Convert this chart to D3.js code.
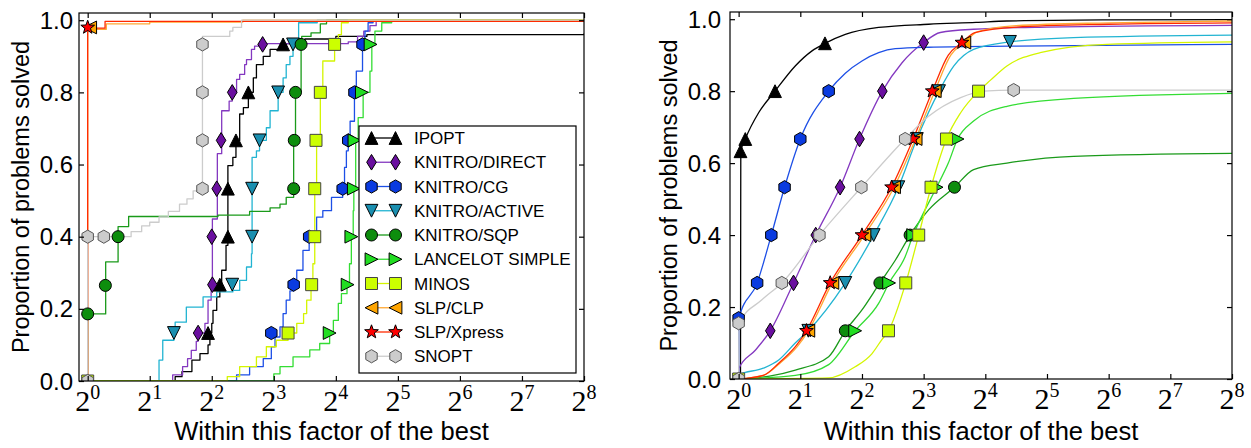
<!DOCTYPE html>
<html><head><meta charset="utf-8">
<script src="https://cdn.jsdelivr.net/npm/d3@7"></script>
<style>body{margin:0;background:#fff}svg{display:block}</style>
</head><body>
<svg id="chart" width="1251" height="448"></svg>
<script>
// ---------- DATA ----------
const solvers = ["IPOPT","KNITRO/DIRECT","KNITRO/CG","KNITRO/ACTIVE","KNITRO/SQP","LANCELOT SIMPLE","MINOS","SLP/CLP","SLP/Xpress","SNOPT"];
const xTickExponents = [0,1,2,3,4,5,6,7,8];
const yTickValues = [0,0.2,0.4,0.6,0.8,1.0];
const xLabel = "Within this factor of the best";
const yLabel = "Proportion of problems solved";

// Left panel: step curves, points are [log2(factor), proportion]
const leftIPOPT = [[0,0],[1.32,0],[1.41,0.012],[1.52,0.026],[1.68,0.058],[1.81,0.076],[1.94,0.1],[1.97,0.133],[2.0,0.16],[2.02,0.196],[2.08,0.233],[2.13,0.265],[2.16,0.307],[2.23,0.343],[2.23,0.376],[2.26,0.4],[2.26,0.597],[2.34,0.62],[2.39,0.666],[2.45,0.702],[2.45,0.74],[2.51,0.758],[2.59,0.8],[2.67,0.84],[2.72,0.877],[2.83,0.9],[2.94,0.919],[3.1,0.93],[3.2,0.935],[3.5,0.948],[4.0,0.955],[4.5,0.96],[8,0.963]];
const leftDIRECT = [[0,0],[1.27,0],[1.37,0.017],[1.53,0.04],[1.61,0.062],[1.67,0.085],[1.75,0.11],[1.78,0.133],[1.89,0.16],[1.94,0.224],[1.99,0.251],[2.01,0.267],[2.01,0.449],[2.09,0.463],[2.09,0.63],[2.16,0.662],[2.16,0.749],[2.28,0.776],[2.33,0.8],[2.4,0.836],[2.45,0.85],[2.53,0.877],[2.56,0.891],[2.64,0.919],[2.69,0.928],[2.8,0.935],[4.2,0.94],[4.35,0.955],[4.45,0.97],[4.55,0.985],[4.65,1.0],[8,1.0]];
const leftCG = [[0,0],[2.05,0],[2.4,0.017],[2.61,0.04],[2.83,0.062],[2.96,0.095],[3.02,0.122],[3.1,0.15],[3.15,0.187],[3.2,0.224],[3.26,0.25],[3.32,0.267],[3.37,0.307],[3.47,0.362],[3.57,0.4],[3.69,0.454],[3.79,0.472],[3.93,0.509],[4.11,0.533],[4.14,0.592],[4.17,0.638],[4.2,0.667],[4.23,0.72],[4.3,0.8],[4.33,0.859],[4.43,0.933],[4.47,0.97],[4.52,0.993],[4.6,1.0],[8,1.0]];
const leftACTIVE = [[0,0],[1.15,0],[1.15,0.058],[1.21,0.113],[1.39,0.133],[1.41,0.163],[1.59,0.205],[1.86,0.233],[2.08,0.247],[2.34,0.251],[2.45,0.279],[2.56,0.316],[2.64,0.353],[2.65,0.4],[2.65,0.62],[2.72,0.638],[2.77,0.667],[2.88,0.702],[2.94,0.749],[3.07,0.8],[3.15,0.84],[3.2,0.877],[3.26,0.9],[3.31,0.933],[3.4,0.993],[3.7,1.0],[8,1.0]];
const leftSQP = [[0,0],[0,0.186],[0.29,0.265],[0.29,0.33],[0.49,0.4],[0.49,0.428],[0.66,0.456],[2.1,0.46],[2.61,0.47],[2.94,0.48],[3.1,0.49],[3.2,0.509],[3.32,0.533],[3.32,0.667],[3.35,0.8],[3.44,0.933],[3.45,0.955],[3.6,0.965],[3.75,0.99],[3.85,1.0],[8,1.0]];
const leftLANCELOT = [[0,0],[2.9,0],[3.0,0.02],[3.1,0.04],[3.31,0.067],[3.58,0.086],[3.74,0.104],[3.9,0.133],[3.96,0.168],[4.04,0.215],[4.09,0.242],[4.18,0.265],[4.22,0.325],[4.25,0.38],[4.25,0.4],[4.28,0.472],[4.29,0.533],[4.32,0.61],[4.32,0.667],[4.36,0.73],[4.44,0.8],[4.55,0.859],[4.58,0.933],[4.63,0.97],[4.74,0.993],[4.9,1.0],[8,1.0]];
const leftMINOS = [[0,0],[2.07,0],[2.25,0.012],[2.45,0.04],[2.72,0.067],[2.88,0.095],[3.04,0.113],[3.23,0.133],[3.37,0.16],[3.48,0.187],[3.53,0.224],[3.6,0.265],[3.63,0.325],[3.66,0.38],[3.66,0.533],[3.69,0.667],[3.75,0.8],[3.79,0.887],[3.98,0.933],[4.04,0.96],[4.09,0.993],[4.2,1.0],[8,1.0]];
const leftCLP = [[0,0],[0,0.975],[0.3,0.99],[1.0,0.995],[2.5,1.0],[8,1.0]];
const leftXpress = [[0,0],[0,0.978],[0.28,0.997],[8,0.997]];
const leftSNOPT = [[0,0],[0,0.4],[0.7,0.414],[0.87,0.43],[1.0,0.44],[1.15,0.455],[1.3,0.47],[1.48,0.49],[1.6,0.505],[1.7,0.527],[1.85,0.533],[1.85,0.955],[2.29,0.97],[2.34,0.98],[2.48,1.0],[8,1.0]];

// Left panel marker positions
const leftMkIPOPT = [[1.94,0.133],[2.13,0.267],[2.26,0.4],[2.26,0.533],[2.39,0.667],[2.59,0.8],[3.15,0.933]];
const leftMkDIRECT = [[1.78,0.133],[2.01,0.267],[2.0,0.4],[2.08,0.533],[2.15,0.667],[2.33,0.8],[2.82,0.933]];
const leftMkCG = [[2.96,0.133],[3.32,0.267],[3.57,0.4],[4.11,0.533],[4.2,0.667],[4.3,0.8],[4.43,0.933]];
const leftMkACTIVE = [[1.39,0.133],[2.33,0.267],[2.65,0.4],[2.65,0.533],[2.77,0.667],[3.07,0.8],[3.31,0.933]];
const leftMkSQP = [[0,0.186],[0.285,0.265],[0.49,0.4],[3.32,0.533],[3.33,0.667],[3.35,0.8],[3.44,0.933]];
const leftMkLANCELOT = [[3.9,0.133],[4.19,0.267],[4.25,0.4],[4.29,0.533],[4.3,0.667],[4.42,0.8],[4.56,0.933]];
const leftMkMINOS = [[0,0],[3.23,0.133],[3.61,0.267],[3.66,0.4],[3.66,0.533],[3.68,0.667],[3.75,0.8],[3.98,0.933]];
const leftMkCLP = [[0.04,0.98]];
const leftMkXpress = [[0,0.98]];
const leftMkSNOPT = [[0,0],[0,0.4],[0.26,0.4],[1.85,0.533],[1.85,0.667],[1.85,0.8],[1.85,0.933]];

// Right panel: smooth curves
const rightIPOPT = [[0.03,0],[0.035,0.633],[0.108,0.667],[0.324,0.74],[0.59,0.8],[0.918,0.87],[1.19,0.912],[1.4,0.933],[1.73,0.958],[2.27,0.977],[3.08,0.986],[3.85,0.991],[4.35,0.995],[6,0.998],[8,0.999]];
const rightDIRECT = [[0,0],[0.005,0.03],[0.27,0.08],[0.513,0.134],[0.89,0.267],[1.25,0.4],[1.645,0.533],[1.96,0.667],[2.33,0.8],[2.65,0.879],[3.0,0.935],[3.27,0.963],[3.81,0.972],[5,0.978],[8,0.983]];
const rightCG = [[0,0],[0.005,0.169],[0.3,0.267],[0.53,0.4],[0.745,0.533],[1.0,0.667],[1.46,0.8],[1.73,0.85],[2.0,0.884],[2.27,0.907],[2.54,0.918],[3.08,0.922],[4.37,0.925],[8,0.93]];
const rightACTIVE = [[0,0],[0.005,0.012],[0.4,0.03],[0.65,0.053],[0.918,0.1],[1.13,0.134],[1.73,0.267],[2.19,0.4],[2.59,0.533],[2.89,0.667],[3.25,0.8],[3.49,0.87],[3.81,0.916],[4.4,0.937],[5.43,0.949],[8,0.956]];
const rightSQP = [[0,0],[0.5,0.008],[0.92,0.025],[1.46,0.062],[1.73,0.134],[2.0,0.192],[2.29,0.267],[2.54,0.33],[2.78,0.4],[3.08,0.47],[3.5,0.533],[3.81,0.582],[4.35,0.6],[5.43,0.619],[8,0.627]];
const rightLANCELOT = [[0,0],[0.92,0.01],[1.46,0.04],[1.89,0.134],[2.27,0.21],[2.44,0.267],[2.7,0.34],[2.83,0.4],[2.97,0.452],[3.21,0.533],[3.4,0.6],[3.55,0.667],[3.81,0.717],[4.35,0.758],[5.43,0.78],[8,0.794]];
const rightMINOS = [[0,0],[1.46,0.003],[1.89,0.034],[2.16,0.07],[2.32,0.109],[2.43,0.134],[2.71,0.267],[2.92,0.4],[3.12,0.533],[3.37,0.667],[3.6,0.74],[3.89,0.8],[4.08,0.83],[4.35,0.87],[4.89,0.907],[5.97,0.93],[8,0.937]];
const rightCLP = [[0,0],[0.4,0.01],[0.67,0.044],[0.95,0.09],[1.13,0.134],[1.52,0.267],[2.04,0.4],[2.52,0.533],[2.87,0.667],[3.18,0.8],[3.44,0.9],[3.66,0.935],[3.87,0.965],[4.5,0.982],[6,0.99],[8,0.995]];
const rightXpress = [[0,0],[0.4,0.01],[0.65,0.044],[0.92,0.09],[1.1,0.134],[1.485,0.267],[2.0,0.4],[2.48,0.533],[2.83,0.667],[3.14,0.8],[3.4,0.9],[3.62,0.935],[3.83,0.963],[4.5,0.978],[6,0.986],[8,0.99]];
const rightSNOPT = [[0,0],[0.005,0.155],[0.377,0.22],[0.7,0.267],[1.31,0.4],[1.99,0.533],[2.7,0.667],[3.08,0.73],[3.6,0.782],[3.97,0.8],[4.46,0.803],[8,0.803]];

const rightMkIPOPT = [[0.03,0.633],[0.108,0.667],[0.59,0.8],[1.4,0.933]];
const rightMkDIRECT = [[0.513,0.134],[0.89,0.267],[1.25,0.4],[1.645,0.533],[1.96,0.667],[2.33,0.8],[3.0,0.935]];
const rightMkCG = [[0,0.169],[0.3,0.267],[0.53,0.4],[0.745,0.533],[1.0,0.667],[1.46,0.8]];
const rightMkACTIVE = [[1.13,0.134],[1.73,0.267],[2.19,0.4],[2.59,0.533],[2.89,0.667],[3.25,0.8],[4.4,0.937]];
const rightMkSQP = [[1.73,0.134],[2.29,0.267],[2.78,0.4],[3.5,0.533]];
const rightMkLANCELOT = [[1.89,0.134],[2.44,0.267],[2.83,0.4],[3.21,0.533],[3.55,0.667]];
const rightMkMINOS = [[0,0],[2.43,0.134],[2.71,0.267],[2.92,0.4],[3.12,0.533],[3.37,0.667],[3.89,0.8]];
const rightMkCLP = [[1.13,0.134],[1.52,0.267],[2.04,0.4],[2.52,0.533],[2.87,0.667],[3.18,0.8],[3.66,0.935]];
const rightMkXpress = [[1.1,0.134],[1.485,0.267],[2.0,0.4],[2.48,0.533],[2.83,0.667],[3.14,0.8],[3.62,0.935]];
const rightMkSNOPT = [[0,0],[0,0.155],[0.7,0.267],[1.31,0.4],[1.99,0.533],[2.7,0.667],[4.46,0.803]];

// ---------- STYLE ----------
const lineColors = ["#000000","#8438c0","#1d4fe6","#22b4d2","#1a9a1a","#33dd33","#d4f500","#ffa833","#ff2a00","#cccccc"];
const fillColors = ["#000000","#6a0f9f","#0a3be0","#1a8fb0","#0d8d0d","#22dd22","#ccff00","#ffa500","#ff0000","#cccccc"];
const edgeColors = ["#000","#000","#000","#000","#000","#000","#444","#000","#000","#555"];
const shapes = ["triUp","diamond","hex","triDown","circle","triRight","square","triLeft","star","hex"];

function shapePath(s){
  const p=[];
  if(s==="circle"){ const r=6; return `M${r},0A${r},${r},0,1,1,${-r},0A${r},${r},0,1,1,${r},0Z`; }
  if(s==="square"){ const a=6; return `M${-a},${-a}H${a}V${a}H${-a}Z`; }
  if(s==="diamond"){ return "M0,-7.8L4.8,0L0,7.8L-4.8,0Z"; }
  if(s==="hex"){ const r=6.6; for(let i=0;i<6;i++){const a=Math.PI/2+i*Math.PI/3;p.push([r*Math.cos(a),-r*Math.sin(a)]);} return "M"+p.map(d=>d.join(",")).join("L")+"Z"; }
  if(s==="star"){ for(let i=0;i<10;i++){const r=i%2?3:7.2;const a=Math.PI/2+i*Math.PI/5;p.push([r*Math.cos(a),-r*Math.sin(a)]);} return "M"+p.map(d=>d.join(",")).join("L")+"Z"; }
  const h=6.4;
  if(s==="triUp") return `M0,${-h}L${h},${h}L${-h},${h}Z`;
  if(s==="triDown") return `M0,${h}L${h},${-h}L${-h},${-h}Z`;
  if(s==="triRight") return `M${h},0L${-h},${h}L${-h},${-h}Z`;
  if(s==="triLeft") return `M${-h},0L${h},${h}L${h},${-h}Z`;
}

const panels = [
  {x0:79,x1:584,y0:13,y1:381,step:true,ylabX:21,tickGap:6,
   lines:[leftIPOPT,leftDIRECT,leftCG,leftACTIVE,leftSQP,leftLANCELOT,leftMINOS,leftCLP,leftXpress,leftSNOPT],
   marks:[leftMkIPOPT,leftMkDIRECT,leftMkCG,leftMkACTIVE,leftMkSQP,leftMkLANCELOT,leftMkMINOS,leftMkCLP,leftMkXpress,leftMkSNOPT],legend:true},
  {x0:730,x1:1232,y0:12,y1:379,step:false,ylabX:669,tickGap:9,
   lines:[rightIPOPT,rightDIRECT,rightCG,rightACTIVE,rightSQP,rightLANCELOT,rightMINOS,rightCLP,rightXpress,rightSNOPT],
   marks:[rightMkIPOPT,rightMkDIRECT,rightMkCG,rightMkACTIVE,rightMkSQP,rightMkLANCELOT,rightMkMINOS,rightMkCLP,rightMkXpress,rightMkSNOPT],legend:false}
];

const svg = d3.select("#chart");
svg.append("rect").attr("width",1251).attr("height",448).attr("fill","#fff");
const sans = "'Liberation Sans', Arial, sans-serif";
const serif = "'Liberation Serif', 'Times New Roman', serif";

panels.forEach((P,pi)=>{
  const x = d3.scaleLinear().domain([-0.14,8]).range([P.x0,P.x1]);
  const y = d3.scaleLinear().domain([0,1.02]).range([P.y1,P.y0]);
  const g = svg.append("g");
  const cid = "clip"+pi;
  g.append("clipPath").attr("id",cid).append("rect")
    .attr("x",P.x0).attr("y",P.y0).attr("width",P.x1-P.x0).attr("height",P.y1-P.y0);
  const plot = g.append("g").attr("clip-path",`url(#${cid})`);
  const line = d3.line().x(d=>x(d[0])).y(d=>y(d[1]))
    .curve(P.step ? d3.curveStepAfter : d3.curveMonotoneX);
  P.lines.forEach((data,i)=>{
    plot.append("path").attr("d",line(data)).attr("fill","none")
      .attr("stroke",lineColors[i]).attr("stroke-width",1.3).attr("stroke-linejoin","round");
  });
  P.marks.forEach((data,i)=>{
    plot.selectAll(null).data(data).enter().append("path")
      .attr("transform",d=>`translate(${x(d[0])},${y(d[1])})`)
      .attr("d",shapePath(shapes[i])).attr("fill",fillColors[i])
      .attr("stroke",edgeColors[i]).attr("stroke-width",1);
  });
  // frame
  g.append("rect").attr("x",P.x0).attr("y",P.y0).attr("width",P.x1-P.x0).attr("height",P.y1-P.y0)
    .attr("fill","none").attr("stroke","#000").attr("stroke-width",1.2);
  // ticks (inward, all four sides)
  const axB = d3.axisBottom(x).tickValues(xTickExponents).tickSize(-5).tickFormat("");
  const axT = d3.axisTop(x).tickValues(xTickExponents).tickSize(-5).tickFormat("");
  const axL = d3.axisLeft(y).tickValues(yTickValues).tickSize(-5).tickFormat("");
  const axR = d3.axisRight(y).tickValues(yTickValues).tickSize(-5).tickFormat("");
  [[axB,`translate(0,${P.y1})`],[axT,`translate(0,${P.y0})`],[axL,`translate(${P.x0},0)`],[axR,`translate(${P.x1},0)`]]
    .forEach(([ax,tr])=>{
      const a=g.append("g").attr("transform",tr).call(ax);
      a.select(".domain").remove();
      a.selectAll("line").attr("stroke","#000").attr("stroke-width",1.2);
    });
  // y tick labels
  g.selectAll(null).data(yTickValues).enter().append("text")
    .attr("x",P.x0-P.tickGap).attr("y",d=>y(d)).attr("dy","0.36em")
    .attr("text-anchor","end").attr("font-family",sans).attr("font-size",24)
    .text(d=>d.toFixed(1));
  // x tick labels 2^k
  xTickExponents.forEach(k=>{
    const t=g.append("text").attr("x",x(k)).attr("y",P.y1+30).attr("text-anchor","middle")
      .attr("font-family",serif).attr("font-size",30);
    t.append("tspan").text("2");
    t.append("tspan").attr("dy",-12).attr("font-size",20).text(k);
  });
  // axis labels
  g.append("text").attr("x",(P.x0+P.x1)/2).attr("y",440).attr("text-anchor","middle")
    .attr("font-family",sans).attr("font-size",25.5).text(xLabel);
  g.append("text").attr("transform",`translate(${P.ylabX},${(P.y0+P.y1)/2}) rotate(-90)`)
    .attr("text-anchor","middle").attr("dy","0.35em").attr("font-family",sans).attr("font-size",23.5).text(yLabel);
  // legend
  if(P.legend){
    const lg=g.append("g");
    lg.append("rect").attr("x",359).attr("y",126).attr("width",217).attr("height",247)
      .attr("fill","#fff").attr("stroke","#000").attr("stroke-width",1.2);
    solvers.forEach((name,i)=>{
      const yy=138+i*24.25;
      lg.append("line").attr("x1",371.5).attr("x2",395.5).attr("y1",yy).attr("y2",yy)
        .attr("stroke",lineColors[i]).attr("stroke-width",1.3);
      [371.5,395.5].forEach(xx=>{
        lg.append("path").attr("transform",`translate(${xx},${yy})`).attr("d",shapePath(shapes[i]))
          .attr("fill",fillColors[i]).attr("stroke",edgeColors[i]).attr("stroke-width",1);
      });
      lg.append("text").attr("x",414).attr("y",yy).attr("dy","0.36em")
        .attr("font-family",sans).attr("font-size",17).text(name);
    });
  }
});
</script>
</body></html>
